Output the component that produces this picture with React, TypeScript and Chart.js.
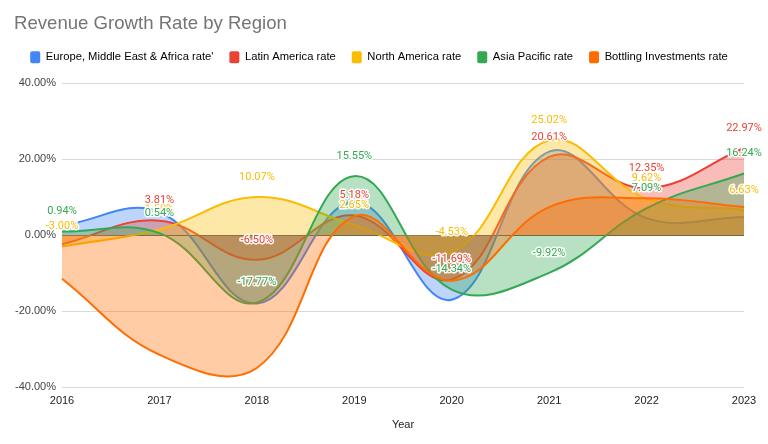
import React, { useEffect, useRef } from "react";
import { Chart, registerables, layouts } from "chart.js";

Chart.register(...registerables);

const years = ["2016", "2017", "2018", "2019", "2020", "2021", "2022", "2023"];
const seriesNames = [
  "Europe, Middle East & Africa rate'",
  "Latin America rate",
  "North America rate",
  "Asia Pacific rate",
  "Bottling Investments rate",
];
const emeaRate = [2.5, 6.1, -18.0, 8.8, -17.0, 22.0, 4.5, 4.8];
const latamRate = [-2.4, 3.81, -6.5, 5.18, -11.69, 20.61, 12.35, 22.97];
const northAmericaRate = [-3.0, 1.5, 10.07, 2.65, -4.53, 25.02, 9.62, 6.63];
const asiaPacificRate = [0.94, 0.54, -17.77, 15.55, -14.34, -9.92, 7.09, 16.24];
const bottlingRate = [-11.5, -31.5, -35.0, 5.0, -12.0, 7.4, 9.7, 7.4];
const yTicks = [-40, -20, 0, 20, 40];
// series whose values are printed (drawing order), and points whose label is hidden
const labelledSeries = [2, 1, 3];
const hiddenLabels = ["1-0"];

const colors = ["#4285F4", "#EA4335", "#FBBC04", "#34A853", "#FF6D01"];
const fills = [
  "rgba(66,133,244,0.35)",
  "rgba(234,67,53,0.35)",
  "rgba(251,188,4,0.35)",
  "rgba(52,168,83,0.35)",
  "rgba(255,109,1,0.35)",
];

const valueLabels = {
  id: "valueLabels",
  afterDatasetsDraw(chart: any) {
    const ctx = chart.ctx;
    ctx.save();
    ctx.font = "11px Roboto";
    ctx.textAlign = "center";
    ctx.textBaseline = "middle";
    ctx.lineJoin = "round";
    labelledSeries.forEach((i) => {
      const ds = chart.data.datasets[i];
      const meta = chart.getDatasetMeta(i);
      meta.data.forEach((pt: any, j: number) => {
        if (hiddenLabels.includes(i + "-" + j)) return;
        const text = Number(ds.data[j]).toFixed(2) + "%";
        const x = pt.x;
        const y = pt.y - 20;
        ctx.strokeStyle = "rgba(255,255,255,0.95)";
        ctx.lineWidth = 3;
        ctx.strokeText(text, x, y);
        ctx.fillStyle = colors[i];
        ctx.fillText(text, x, y);
      });
    });
    ctx.restore();
  },
};

// empty layout box that adds space between the legend and the plot area
const legendSpacer = {
  id: "legendSpacer",
  beforeInit(chart: any) {
    const box: any = {
      position: "top",
      weight: 500,
      fullSize: true,
      options: { position: "top", fullSize: true, weight: 500, stackWeight: 1 },
      left: 0,
      top: 0,
      right: 0,
      bottom: 0,
      width: 0,
      height: 0,
      update(maxWidth: number) {
        this.width = maxWidth;
        this.height = 10;
        this.left = 0;
        this.right = maxWidth;
      },
      isHorizontal() {
        return true;
      },
      getPadding() {
        return { left: 0, top: 0, right: 0, bottom: 0 };
      },
      draw() {},
    };
    layouts.addBox(chart, box);
  },
};

export default function App() {
  const ref = useRef<HTMLCanvasElement>(null);
  useEffect(() => {
    const allData = [emeaRate, latamRate, northAmericaRate, asiaPacificRate, bottlingRate];
    const chart = new Chart(ref.current as HTMLCanvasElement, {
      type: "line",
      data: {
        labels: years,
        datasets: allData.map((d, i) => ({
          label: seriesNames[i],
          data: d,
          borderColor: colors[i],
          backgroundColor: fills[i],
          borderWidth: 2,
          pointRadius: 0,
          tension: 0.4,
          fill: "origin",
          order: 5 - i,
        })),
      },
      options: {
        responsive: false,
        maintainAspectRatio: false,
        devicePixelRatio: 1,
        animation: false,
        layout: { padding: { left: 14, right: 24, top: 0, bottom: 0 } },
        plugins: {
          tooltip: { enabled: false },
          title: {
            display: true,
            text: "Revenue Growth Rate by Region",
            align: "start",
            color: "#757575",
            font: { family: "'Liberation Sans', Arial", size: 18.6, weight: "normal" },
            padding: { top: 13, bottom: 0 },
          },
          legend: {
            position: "top",
            align: "center",
            labels: {
              boxWidth: 10,
              boxHeight: 12,
              padding: 16,
              color: "#222",
              font: { family: "'Liberation Sans', Arial", size: 11.2 },
              useBorderRadius: true,
              borderRadius: 2,
              generateLabels: () =>
                seriesNames.map((n, i) => ({
                  text: n,
                  fillStyle: colors[i],
                  strokeStyle: colors[i],
                  lineWidth: 0,
                  hidden: false,
                  datasetIndex: i,
                  borderRadius: 2,
                })),
            },
          },
        },
        scales: {
          x: {
            grid: { display: false, drawTicks: false },
            border: { display: false },
            offset: false,
            ticks: {
              color: "#222",
              font: { family: "'Liberation Sans', Arial", size: 11 },
              autoSkip: false,
              maxRotation: 0,
              padding: 7,
            },
            title: {
              display: true,
              text: "Year",
              color: "#222",
              font: { family: "'Liberation Sans', Arial", size: 11 },
              padding: { top: 12, bottom: 12 },
            },
            afterFit: (s: any) => {
              s.height = 57;
            },
          },
          y: {
            min: -40,
            max: 40,
            afterBuildTicks: (s: any) => {
              s.ticks = yTicks.map((v) => ({ value: v }));
            },
            grid: {
              drawTicks: false,
              color: (c: any) => (c.tick && c.tick.value === 0 ? "#555" : "#d9d9d9"),
              lineWidth: 1,
            },
            border: { display: false },
            ticks: {
              color: "#444",
              font: { family: "'Liberation Sans', Arial", size: 11 },
              padding: 6,
              callback: (v: any) => Number(v).toFixed(2) + "%",
            },
            afterFit: (s: any) => {
              s.width = 48;
            },
          },
        },
      },
      plugins: [valueLabels, legendSpacer],
    });
    return () => chart.destroy();
  }, []);
  return (
    <div style={{ position: "fixed", left: 0, top: 0, width: 768, height: 444, background: "#fff" }}>
      <canvas ref={ref} width={768} height={444} style={{ width: 768, height: 444 }} />
    </div>
  );
}
